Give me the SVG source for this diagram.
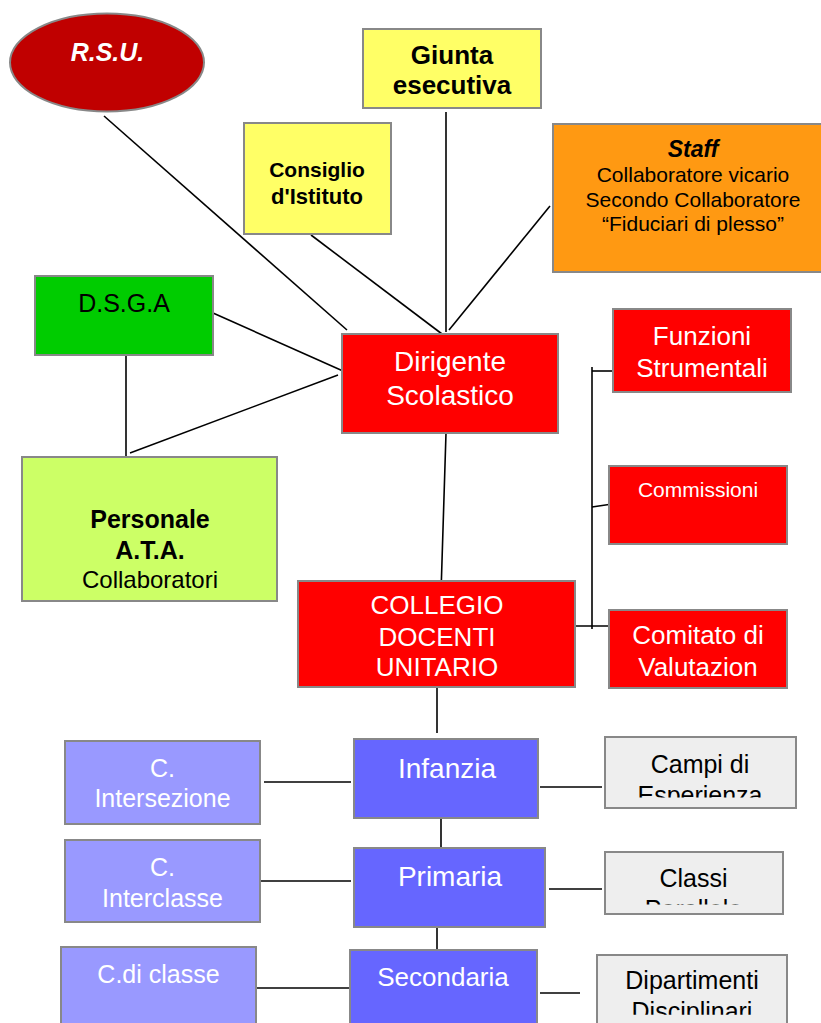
<svg xmlns="http://www.w3.org/2000/svg" width="821" height="1023" viewBox="0 0 821 1023">
<style>
text{font-family:"Liberation Sans",Arial,sans-serif;text-anchor:middle}
.box{stroke:#888;stroke-width:2}
.w{fill:#fff}
.k{fill:#000}
.b{font-weight:bold}
.i{font-style:italic}
.ln{stroke:#000;stroke-width:1.6;fill:none}
</style>
<defs>
<clipPath id="cCampi"><rect x="600" y="730" width="200" height="67.5"/></clipPath>
<clipPath id="cClassi"><rect x="600" y="845" width="190" height="59.5"/></clipPath>
<clipPath id="cDip"><rect x="590" y="950" width="200" height="64.8"/></clipPath>
</defs>
<rect width="821" height="1023" fill="#fff"/>
<g id="connectors">
<line class="ln" x1="104" y1="116" x2="347" y2="330"/>
<line class="ln" x1="311" y1="235" x2="442" y2="334"/>
<line class="ln" x1="446" y1="112" x2="446" y2="332"/>
<line class="ln" x1="550" y1="206" x2="449" y2="330"/>
<line class="ln" x1="213" y1="313" x2="343" y2="371"/>
<line class="ln" x1="130" y1="453" x2="338" y2="375"/>
<line class="ln" x1="126" y1="350" x2="126" y2="458"/>
<line class="ln" x1="446" y1="433" x2="441" y2="593"/>
<line class="ln" x1="592" y1="367" x2="592" y2="629"/>
<line class="ln" x1="592" y1="371" x2="623" y2="371"/>
<line class="ln" x1="592" y1="507" x2="619" y2="503"/>
<line class="ln" x1="575" y1="626" x2="611" y2="626"/>
<line class="ln" x1="437" y1="687" x2="437" y2="733"/>
<line class="ln" x1="441" y1="815" x2="441" y2="848"/>
<line class="ln" x1="437" y1="927" x2="437" y2="955"/>
<line class="ln" x1="264" y1="782" x2="351" y2="782"/>
<line class="ln" x1="259" y1="881" x2="351" y2="881"/>
<line class="ln" x1="251" y1="988" x2="356" y2="988"/>
<line class="ln" x1="540" y1="787" x2="602" y2="787"/>
<line class="ln" x1="549" y1="889" x2="602" y2="889"/>
<line class="ln" x1="540" y1="993" x2="580" y2="993"/>
</g>
<g id="rsu">
<ellipse class="box" cx="107" cy="62.5" rx="97" ry="49" fill="#C00000"/>
<text class="w b i" x="107.5" y="61" font-size="25">R.S.U.</text>
</g>
<g id="giunta">
<rect class="box" x="363" y="29" width="178" height="79" fill="#FFFF66"/>
<text class="k b" x="452" y="64" font-size="26">Giunta</text>
<text class="k b" x="452" y="94" font-size="26">esecutiva</text>
</g>
<g id="consiglio">
<rect class="box" x="244" y="123" width="147" height="111" fill="#FFFF66"/>
<text class="k b" x="317" y="177" font-size="21">Consiglio</text>
<text class="k b" x="317" y="204" font-size="22">d'Istituto</text>
</g>
<g id="staff">
<rect class="box" x="553" y="124" width="270" height="148" fill="#FF9912"/>
<text class="k b i" x="693" y="157" font-size="23">Staff</text>
<text class="k" x="693" y="182" font-size="21">Collaboratore vicario</text>
<text class="k" x="693" y="207" font-size="21">Secondo Collaboratore</text>
<text class="k" x="693" y="231" font-size="21">“Fiduciari di plesso”</text>
</g>
<g id="dsga">
<rect class="box" x="35" y="276" width="178" height="79" fill="#00CC00"/>
<text class="k" x="124" y="311.5" font-size="25">D.S.G.A</text>
</g>
<g id="ata">
<rect class="box" x="22" y="457" width="255" height="144" fill="#CCFF66"/>
<text class="k b" x="150" y="528" font-size="25">Personale</text>
<text class="k b" x="150" y="559" font-size="25">A.T.A.</text>
<text class="k" x="150" y="588" font-size="24">Collaboratori</text>
</g>
<g id="dirigente">
<rect class="box" x="342" y="334" width="216" height="99" fill="#FF0000"/>
<text class="w" x="450" y="370.5" font-size="28">Dirigente</text>
<text class="w" x="450" y="405" font-size="28">Scolastico</text>
</g>
<g id="funzioni">
<rect class="box" x="613" y="309" width="178" height="83" fill="#FF0000"/>
<text class="w" x="702" y="345" font-size="26">Funzioni</text>
<text class="w" x="702" y="376.5" font-size="26">Strumentali</text>
</g>
<g id="commissioni">
<rect class="box" x="609" y="466" width="178" height="78" fill="#FF0000"/>
<text class="w" x="698" y="496.5" font-size="21">Commissioni</text>
</g>
<g id="comitato">
<rect class="box" x="609" y="610" width="178" height="78" fill="#FF0000"/>
<text class="w" x="698" y="644" font-size="26">Comitato di</text>
<text class="w" x="698" y="675.5" font-size="26">Valutazion</text>
</g>
<g id="collegio">
<rect class="box" x="298" y="581" width="277" height="106" fill="#FF0000"/>
<text class="w" x="437" y="614" font-size="26">COLLEGIO</text>
<text class="w" x="437" y="645.5" font-size="26">DOCENTI</text>
<text class="w" x="437" y="675.5" font-size="26">UNITARIO</text>
</g>
<g id="infanzia">
<rect class="box" x="354" y="739" width="184" height="79" fill="#6666FF"/>
<text class="w" x="447" y="778" font-size="28">Infanzia</text>
</g>
<g id="primaria">
<rect class="box" x="354" y="848" width="191" height="79" fill="#6666FF"/>
<text class="w" x="450" y="885.5" font-size="28">Primaria</text>
</g>
<g id="secondaria">
<rect class="box" x="350" y="950" width="187" height="80" fill="#6666FF"/>
<text class="w" x="443" y="985.5" font-size="26">Secondaria</text>
</g>
<g id="intersezione">
<rect class="box" x="65" y="741" width="195" height="83" fill="#9999FF"/>
<text class="w" x="162.5" y="776.5" font-size="25">C.</text>
<text class="w" x="162.5" y="807" font-size="25">Intersezione</text>
</g>
<g id="interclasse">
<rect class="box" x="65" y="840" width="195" height="82" fill="#9999FF"/>
<text class="w" x="162.5" y="875.5" font-size="25">C.</text>
<text class="w" x="162.5" y="906.5" font-size="25">Interclasse</text>
</g>
<g id="classe">
<rect class="box" x="61" y="947" width="195" height="83" fill="#9999FF"/>
<text class="w" x="158.5" y="983" font-size="25">C.di classe</text>
</g>
<g id="campi">
<rect class="box" x="605" y="737" width="191" height="71" fill="#EEEEEE"/>
<g clip-path="url(#cCampi)">
<text class="k" x="700" y="773" font-size="25">Campi di</text>
<text class="k" x="700" y="804" font-size="25">Esperienza</text>
</g>
</g>
<g id="classi">
<rect class="box" x="605" y="852" width="178" height="62" fill="#EEEEEE"/>
<g clip-path="url(#cClassi)">
<text class="k" x="693.5" y="886.5" font-size="25">Classi</text>
<text class="k" x="693.5" y="918" font-size="25">Parallele</text>
</g>
</g>
<g id="dipartimenti">
<rect class="box" x="597" y="955" width="190" height="75" fill="#EEEEEE"/>
<g clip-path="url(#cDip)">
<text class="k" x="692" y="989" font-size="25">Dipartimenti</text>
<text class="k" x="692" y="1020" font-size="25">Disciplinari</text>
</g>
</g>
</svg>
